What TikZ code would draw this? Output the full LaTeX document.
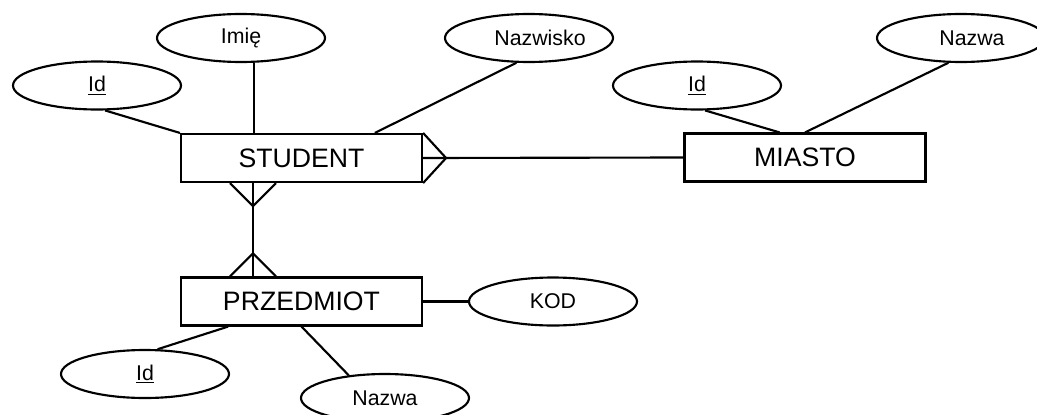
\documentclass[tikz,border=0pt]{standalone}
\usepackage{fontspec}
\setmainfont{Liberation Sans}
\usetikzlibrary{shapes.geometric}

\begin{document}
\begin{tikzpicture}[x=0.75pt, y=-0.75pt, line width=1.6pt,
	entity/.style={draw, rectangle, minimum width=180.75pt, minimum height=36pt, inner sep=0pt, font=\fontsize{20}{22}\selectfont},
	attr/.style={draw, ellipse, minimum width=126pt, minimum height=36pt, inner sep=0pt, font=\fontsize{16}{18}\selectfont}]
	\useasboundingbox (0,0) rectangle (1037,414);
	% encje
	\node[entity] (student) at (301.5,158) {STUDENT};
	\node[entity] (miasto) at (805,157.5) {MIASTO};
	\node[entity] (przedmiot) at (301.5,301.5) {PRZEDMIOT};
	% atrybuty
	\node[attr] (stId) at (97,85.5) {\underline{Id}};
	\node[attr] (stImie) at (241,38) {Imię};
	\node[attr] (stNazwisko) at (529,38) {\hspace*{16.5pt}Nazwisko};
	\node[attr] (miId) at (697,85.5) {\underline{Id}};
	\node[attr] (miNazwa) at (961,38) {\hspace*{16.5pt}Nazwa};
	\node[attr] (prKod) at (553,301.5) {KOD};
	\node[attr] (prId) at (145,374) {\underline{Id}};
	\node[attr] (prNazwa) at (385,398) {Nazwa};
	% linie atrybutow
	\draw (stId.-72) -- (student.north west);
	\draw (stImie.-63) -- (stImie.-63 |- student.north);
	\draw (stNazwisko.-117) -- ([xshift=55pt]student.north);
	\draw (miId.-72) -- ([xshift=-19pt]miasto.north);
	\draw (miNazwa.-117) -- (miasto.north);
	\draw (przedmiot.east) -- (prKod.west);
	\draw (prId.63) -- ([xshift=-55pt]przedmiot.south);
	\draw (prNazwa.148) -- (przedmiot.south);
	% STUDENT -- MIASTO
	\coordinate (footM) at ([xshift=17.25pt]student.east);
	\draw (student.north east) -- (footM) -- (student.south east);
	\draw (student.east) -- (miasto.west);
	% STUDENT -- PRZEDMIOT
	\coordinate (footS) at ([xshift=-36.4pt]student.south);
	\coordinate (footP) at (footS |- przedmiot.north);
	\draw (footS) -- (footP);
	\draw ([xshift=-17.25pt]footS) -- ([yshift=-17.25pt]footS) -- ([xshift=17.25pt]footS);
	\draw ([xshift=-17.25pt]footP) -- ([yshift=17.25pt]footP) -- ([xshift=17.25pt]footP);
\end{tikzpicture}
\end{document}
